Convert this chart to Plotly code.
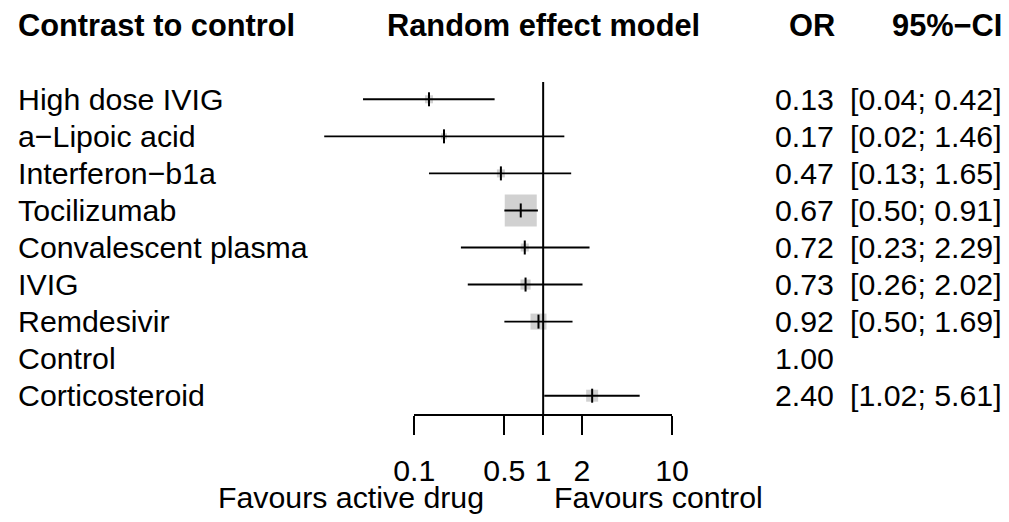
import plotly.graph_objects as go

# forest plot data (random effect model, OR vs control)
treatments = ["High dose IVIG", "a\u2212Lipoic acid", "Interferon\u2212b1a", "Tocilizumab",
              "Convalescent plasma", "IVIG", "Remdesivir", "Control", "Corticosteroid"]
odds_ratio = [0.13, 0.17, 0.47, 0.67, 0.72, 0.73, 0.92, 1.00, 2.40]
ci_lower = [0.04, 0.02, 0.13, 0.50, 0.23, 0.26, 0.50, None, 1.02]
ci_upper = [0.42, 1.46, 1.65, 0.91, 2.29, 2.02, 1.69, None, 5.61]
weights = [6.3, 3.5, 6.3, 100, 6.3, 10, 25, 0, 14]

tick_vals = [0.1, 0.5, 1, 2, 10]
tick_text = ["0.1", "0.5", "1", "2", "10"]

FONT = "Liberation Sans, Arial, sans-serif"
FS = 30.3
rows = list(range(len(treatments)))

fig = go.Figure()

# grey weight squares
sq_x, sq_y, sq_s = [], [], []
for i, (o, w) in enumerate(zip(odds_ratio, weights)):
    if w > 0:
        sq_x.append(o)
        sq_y.append(i)
        sq_s.append(32 * (w / 100) ** 0.5)
fig.add_trace(go.Scatter(x=sq_x, y=sq_y, mode="markers",
                         marker=dict(symbol="square", size=sq_s, color="#BEBEBE", line_width=0),
                         hoverinfo="skip"))

# reference line at OR = 1
fig.add_trace(go.Scatter(x=[1, 1], y=[-0.47, 8.5], mode="lines",
                         line=dict(color="black", width=2), hoverinfo="skip"))

# confidence intervals
ci_x, ci_y = [], []
for i, (lo, hi) in enumerate(zip(ci_lower, ci_upper)):
    if lo is None:
        continue
    ci_x += [lo, hi, None]
    ci_y += [i, i, None]
fig.add_trace(go.Scatter(x=ci_x, y=ci_y, mode="lines",
                         line=dict(color="black", width=1.9), hoverinfo="skip"))

# point estimate ticks
pe_x = [o for o, lo in zip(odds_ratio, ci_lower) if lo is not None]
pe_y = [i for i, lo in zip(rows, ci_lower) if lo is not None]
fig.add_trace(go.Scatter(x=pe_x, y=pe_y, mode="markers",
                         marker=dict(symbol="line-ns", size=10, line=dict(color="black", width=2)),
                         hoverinfo="skip"))

# dummy trace so the bottom axis subplot exists
fig.add_trace(go.Scatter(x=[], y=[], xaxis="x2", yaxis="y2"))

ann = []
txt = dict(family=FONT, size=FS, color="black")
bold = dict(family=FONT, size=30.8, color="black", weight="bold")

ann.append(dict(text="Contrast to control", x=16 / 1009, xref="paper", y=-2, yref="y",
                xanchor="left", yanchor="middle", showarrow=False, font=bold))
ann.append(dict(text="Random effect model", x=0, xref="x", y=-2, yref="y",
                xanchor="center", yanchor="middle", showarrow=False, font=bold))
ann.append(dict(text="OR", x=837 / 1009, xref="paper", y=-2, yref="y",
                xanchor="right", yanchor="middle", showarrow=False, font=bold))
ann.append(dict(text="95%\u2212CI", x=1004 / 1009, xref="paper", y=-2, yref="y",
                xanchor="right", yanchor="middle", showarrow=False, font=bold))

for i, name in enumerate(treatments):
    ann.append(dict(text=name, x=16 / 1009, xref="paper", y=i, yref="y",
                    xanchor="left", yanchor="middle", showarrow=False, font=txt))
    ann.append(dict(text="%.2f" % odds_ratio[i], x=836 / 1009, xref="paper", y=i, yref="y",
                    xanchor="right", yanchor="middle", showarrow=False, font=txt))
    if ci_lower[i] is not None:
        ann.append(dict(text="[%.2f; %.2f]" % (ci_lower[i], ci_upper[i]), x=1004 / 1009,
                        xref="paper", y=i, yref="y", xanchor="right", yanchor="middle",
                        showarrow=False, font=txt))

ann.append(dict(text="Favours active drug", x=486 / 1009, xref="paper", y=10.74, yref="y",
                xanchor="right", yanchor="middle", showarrow=False, font=txt))
ann.append(dict(text="Favours control", x=552 / 1009, xref="paper", y=10.74, yref="y",
                xanchor="left", yanchor="middle", showarrow=False, font=txt))

ax_y = 1 - 414 / 522

fig.update_layout(
    width=1009, height=522,
    margin=dict(l=0, r=0, t=0, b=0, pad=0, autoexpand=False),
    paper_bgcolor="white", plot_bgcolor="rgba(0,0,0,0)",
    showlegend=False,
    annotations=ann,
    xaxis=dict(type="log", domain=[0, 1], range=[-4.215, 3.615], visible=False),
    yaxis=dict(range=[11.409, -2.680], domain=[0, 1], visible=False),
    xaxis2=dict(type="log", domain=[414.3 / 1009, 672 / 1009], range=[-1, 1], anchor="y2",
                showline=True, linecolor="black", linewidth=2,
                ticks="outside", ticklen=19, tickwidth=2, tickcolor="black",
                tickvals=tick_vals, ticktext=tick_text, ticklabelstandoff=10,
                tickfont=dict(family=FONT, size=FS, color="black"),
                showgrid=False, zeroline=False),
    yaxis2=dict(domain=[ax_y, ax_y + 0.01], range=[0, 1], visible=False),
)

# drop the default page margin so the figure sits at the window's top-left corner
fig.write_html("out.html", config={"displayModeBar": False},
               post_script="document.body.style.margin='0';")
